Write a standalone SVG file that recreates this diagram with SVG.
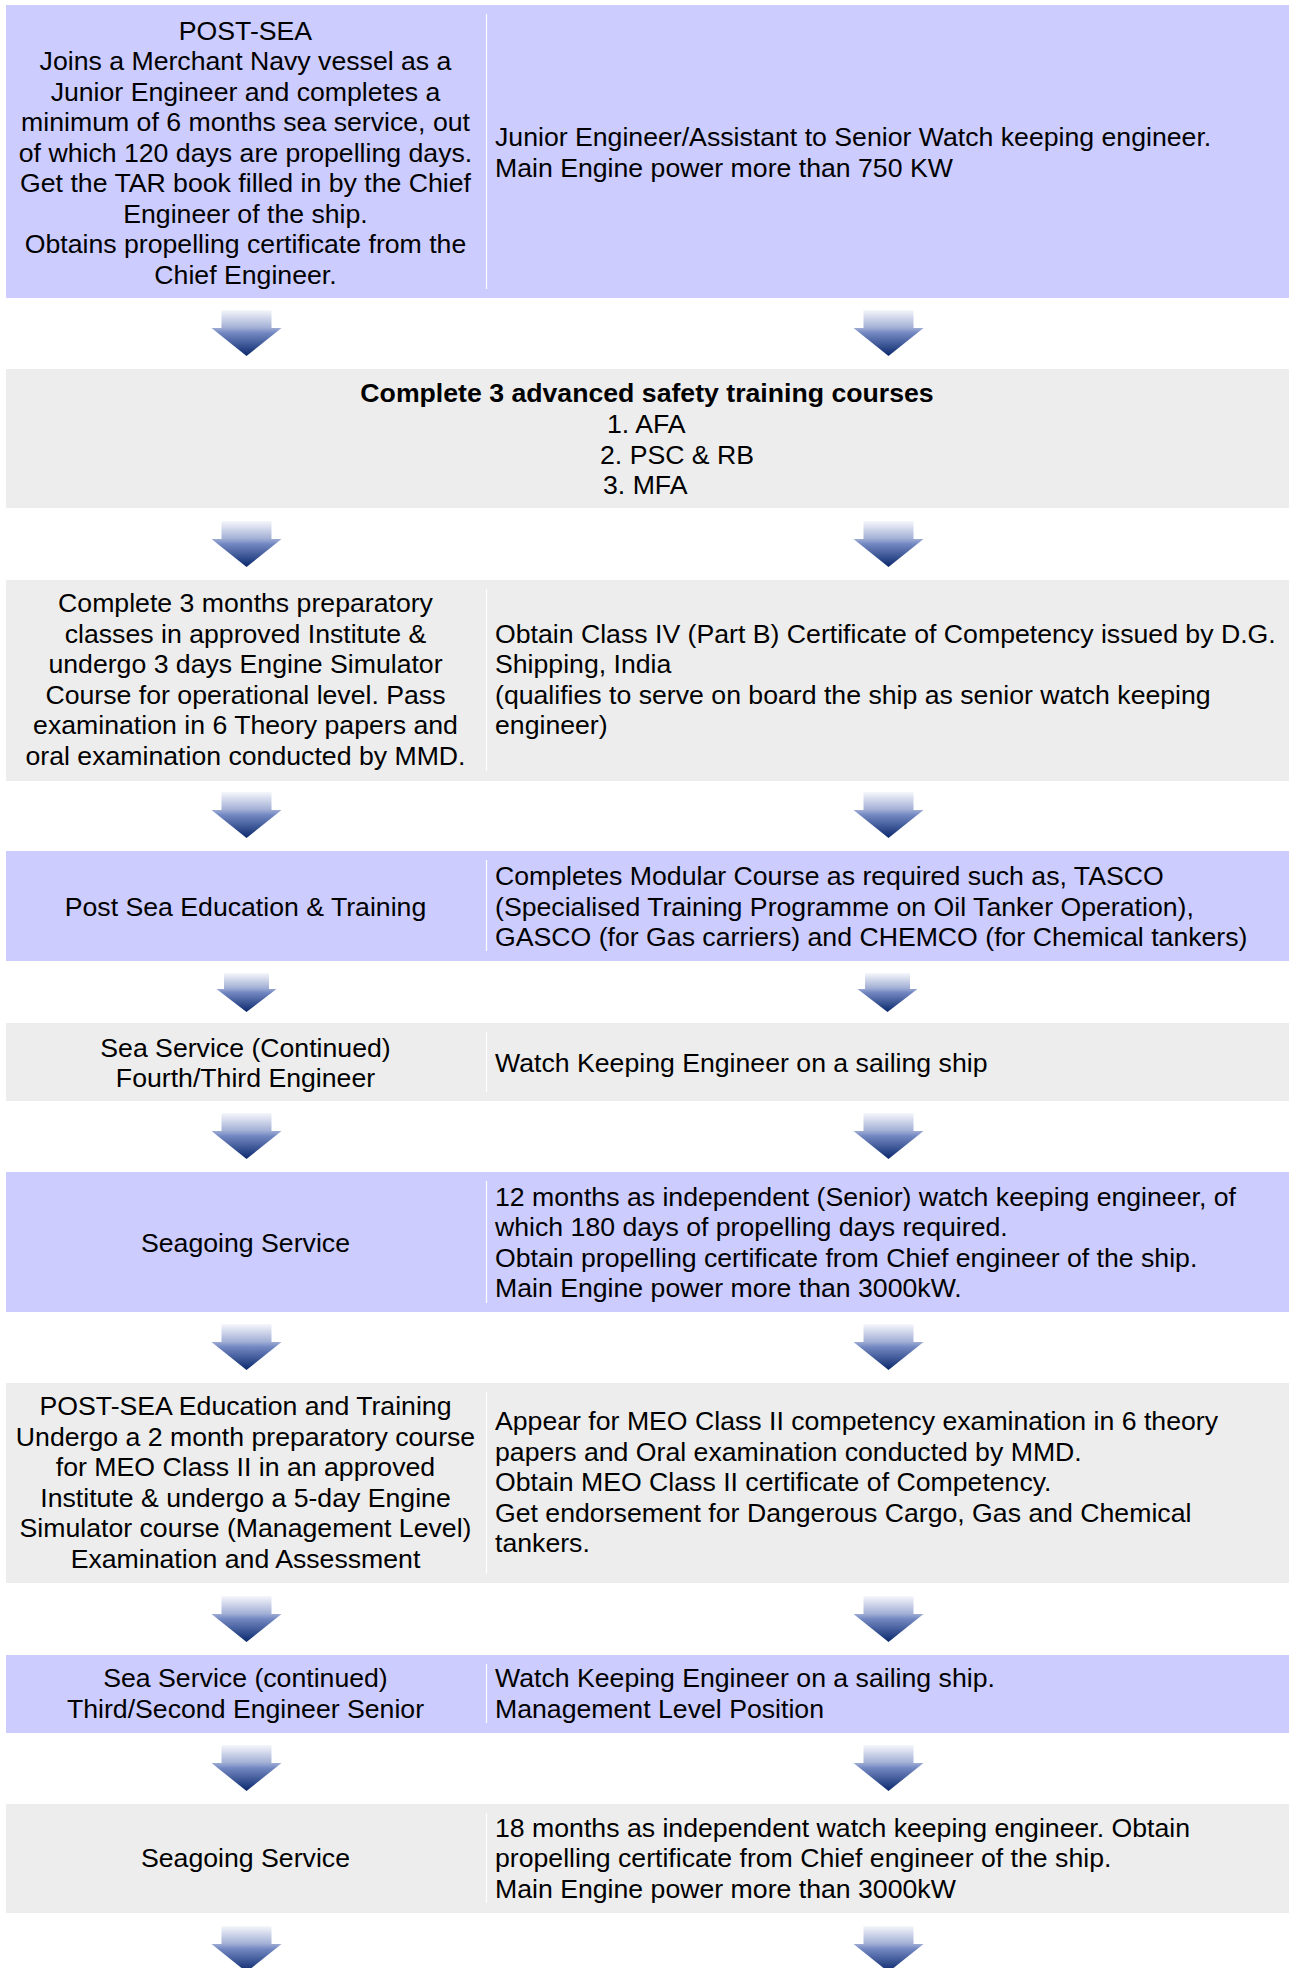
<svg xmlns="http://www.w3.org/2000/svg" xmlns:xlink="http://www.w3.org/1999/xlink" width="1290" height="1968" viewBox="0 0 1290 1968">
<style>
.lav{fill:#CCCCFF}
.gry{fill:#EDEDED}
.div{stroke:#FFFFFF;stroke-width:1.2}
text{font-family:"Liberation Sans",Arial,sans-serif;font-size:26.67px;fill:#000}
.c{text-anchor:middle}
.b{font-weight:bold}
</style>
<defs>
<linearGradient id="ag" x1="0" y1="0" x2="0" y2="1">
<stop offset="0" stop-color="#f6f7fc"/>
<stop offset="0.38" stop-color="#a3b0d6"/>
<stop offset="0.5" stop-color="#7388c2"/>
<stop offset="1" stop-color="#0a286c"/>
</linearGradient>
<path id="bigArrow" d="M-25,0 H25 V18 H35 L0,46 L-35,18 H-25 Z" fill="url(#ag)"/>
<path id="smallArrow" d="M-22.5,0 H22.5 V16 H30 L0,39 L-30,16 H-22.5 Z" fill="url(#ag)"/>
</defs>
<rect width="1290" height="1968" fill="#FFFFFF"/>

<g id="row1">
<rect class="lav" x="6" y="5" width="1283" height="293"/>
<line class="div" x1="486.5" y1="14" x2="486.5" y2="289"/>
<text class="c" x="245.5" y="39.5">POST-SEA</text>
<text class="c" x="245.5" y="70">Joins a Merchant Navy vessel as a</text>
<text class="c" x="245.5" y="100.5">Junior Engineer and completes a</text>
<text class="c" x="245.5" y="131">minimum of 6 months sea service, out</text>
<text class="c" x="245.5" y="161.5">of which 120 days are propelling days.</text>
<text class="c" x="245.5" y="192">Get the TAR book filled in by the Chief</text>
<text class="c" x="245.5" y="222.5">Engineer of the ship.</text>
<text class="c" x="245.5" y="253">Obtains propelling certificate from the</text>
<text class="c" x="245.5" y="283.5">Chief Engineer.</text>
<text x="495" y="146">Junior Engineer/Assistant to Senior Watch keeping engineer.</text>
<text x="495" y="176.5">Main Engine power more than 750 KW</text>
</g>

<g id="row2">
<rect class="gry" x="6" y="369" width="1283" height="139"/>
<text class="c b" x="647" y="402">Complete 3 advanced safety training courses</text>
<text x="607" y="433">1. AFA</text>
<text x="600" y="463.5">2. PSC &amp; RB</text>
<text x="603" y="494">3. MFA</text>
</g>

<g id="row3">
<rect class="gry" x="6" y="580" width="1283" height="201"/>
<line class="div" x1="486.5" y1="589" x2="486.5" y2="771"/>
<text class="c" x="245.5" y="612">Complete 3 months preparatory</text>
<text class="c" x="245.5" y="642.5">classes in approved Institute &amp;</text>
<text class="c" x="245.5" y="673">undergo 3 days Engine Simulator</text>
<text class="c" x="245.5" y="703.5">Course for operational level. Pass</text>
<text class="c" x="245.5" y="734">examination in 6 Theory papers and</text>
<text class="c" x="245.5" y="764.5">oral examination conducted by MMD.</text>
<text x="495" y="642.5">Obtain Class IV (Part B) Certificate of Competency issued by D.G.</text>
<text x="495" y="673">Shipping, India</text>
<text x="495" y="703.5">(qualifies to serve on board the ship as senior watch keeping</text>
<text x="495" y="734">engineer)</text>
</g>

<g id="row4">
<rect class="lav" x="6" y="851" width="1283" height="110"/>
<line class="div" x1="486.5" y1="860" x2="486.5" y2="951"/>
<text class="c" x="245.5" y="916">Post Sea Education &amp; Training</text>
<text x="495" y="885">Completes Modular Course as required such as, TASCO</text>
<text x="495" y="915.5">(Specialised Training Programme on Oil Tanker Operation),</text>
<text x="495" y="946">GASCO (for Gas carriers) and CHEMCO (for Chemical tankers)</text>
</g>

<g id="row5">
<rect class="gry" x="6" y="1023" width="1283" height="78"/>
<line class="div" x1="486.5" y1="1032" x2="486.5" y2="1092"/>
<text class="c" x="245.5" y="1057">Sea Service (Continued)</text>
<text class="c" x="245.5" y="1087">Fourth/Third Engineer</text>
<text x="495" y="1072">Watch Keeping Engineer on a sailing ship</text>
</g>

<g id="row6">
<rect class="lav" x="6" y="1172" width="1283" height="140"/>
<line class="div" x1="486.5" y1="1181" x2="486.5" y2="1303"/>
<text class="c" x="245.5" y="1252">Seagoing Service</text>
<text x="495" y="1205.5">12 months as independent (Senior) watch keeping engineer, of</text>
<text x="495" y="1236">which 180 days of propelling days required.</text>
<text x="495" y="1266.5">Obtain propelling certificate from Chief engineer of the ship.</text>
<text x="495" y="1297">Main Engine power more than 3000kW.</text>
</g>

<g id="row7">
<rect class="gry" x="6" y="1383" width="1283" height="200"/>
<line class="div" x1="486.5" y1="1392" x2="486.5" y2="1574"/>
<text class="c" x="245.5" y="1415">POST-SEA Education and Training</text>
<text class="c" x="245.5" y="1445.5">Undergo a 2 month preparatory course</text>
<text class="c" x="245.5" y="1476">for MEO Class II in an approved</text>
<text class="c" x="245.5" y="1506.5">Institute &amp; undergo a 5-day Engine</text>
<text class="c" x="245.5" y="1537">Simulator course (Management Level)</text>
<text class="c" x="245.5" y="1567.5">Examination and Assessment</text>
<text x="495" y="1430">Appear for MEO Class II competency examination in 6 theory</text>
<text x="495" y="1460.5">papers and Oral examination conducted by MMD.</text>
<text x="495" y="1491">Obtain MEO Class II certificate of Competency.</text>
<text x="495" y="1521.5">Get endorsement for Dangerous Cargo, Gas and Chemical</text>
<text x="495" y="1552">tankers.</text>
</g>

<g id="row8">
<rect class="lav" x="6" y="1655" width="1283" height="78"/>
<line class="div" x1="486.5" y1="1664" x2="486.5" y2="1723"/>
<text class="c" x="245.5" y="1687">Sea Service (continued)</text>
<text class="c" x="245.5" y="1717.5">Third/Second Engineer Senior</text>
<text x="495" y="1687">Watch Keeping Engineer on a sailing ship.</text>
<text x="495" y="1717.5">Management Level Position</text>
</g>

<g id="row9">
<rect class="gry" x="6" y="1804" width="1283" height="109"/>
<line class="div" x1="486.5" y1="1813" x2="486.5" y2="1903"/>
<text class="c" x="245.5" y="1867">Seagoing Service</text>
<text x="495" y="1836.5">18 months as independent watch keeping engineer. Obtain</text>
<text x="495" y="1867">propelling certificate from Chief engineer of the ship.</text>
<text x="495" y="1897.5">Main Engine power more than 3000kW</text>
</g>

<g id="connectors">
<use xlink:href="#bigArrow" x="246.5" y="310"/>
<use xlink:href="#bigArrow" x="888.5" y="310"/>
<use xlink:href="#bigArrow" x="246.5" y="521"/>
<use xlink:href="#bigArrow" x="888.5" y="521"/>
<use xlink:href="#bigArrow" x="246.5" y="792"/>
<use xlink:href="#bigArrow" x="888.5" y="792"/>
<use xlink:href="#smallArrow" x="246.5" y="973"/>
<use xlink:href="#smallArrow" x="887.5" y="973"/>
<use xlink:href="#bigArrow" x="246.5" y="1113"/>
<use xlink:href="#bigArrow" x="888.5" y="1113"/>
<use xlink:href="#bigArrow" x="246.5" y="1324"/>
<use xlink:href="#bigArrow" x="888.5" y="1324"/>
<use xlink:href="#bigArrow" x="246.5" y="1596"/>
<use xlink:href="#bigArrow" x="888.5" y="1596"/>
<use xlink:href="#bigArrow" x="246.5" y="1745"/>
<use xlink:href="#bigArrow" x="888.5" y="1745"/>
<use xlink:href="#bigArrow" x="246.5" y="1926"/>
<use xlink:href="#bigArrow" x="888.5" y="1926"/>
</g>
</svg>
